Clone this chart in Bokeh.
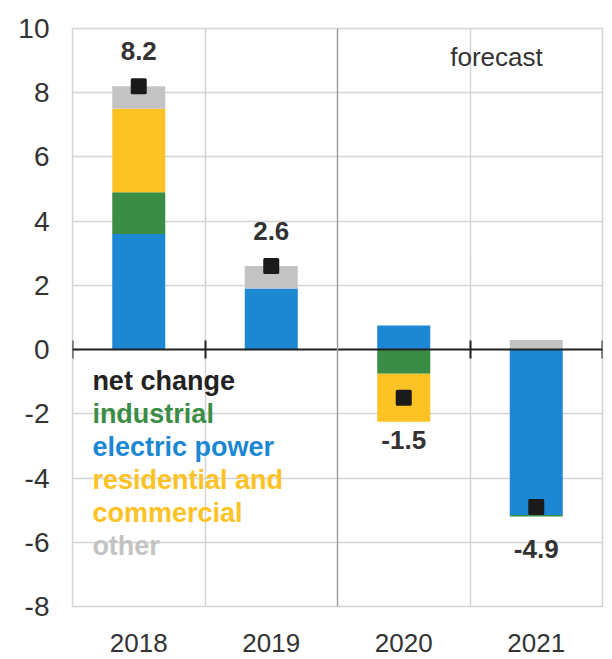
from bokeh.plotting import figure
from bokeh.models import (Range1d, FixedTicker, LinearAxis, Span, Label, ColumnDataSource, Grid)
from bokeh.core.properties import value
from bokeh.embed import file_html
from bokeh.resources import INLINE

years = ["2018", "2019", "2020", "2021"]
electric = [3.6, 1.9, 0.75, -5.15]
industrial = [1.3, 0.0, -0.75, -0.05]
residential = [2.6, 0.0, -1.5, 0.0]
other = [0.7, 0.7, 0.0, 0.3]
net = [8.2, 2.6, -1.5, -4.9]
y_ticks = [10, 8, 6, 4, 2, 0, -2, -4, -6, -8]

series = [("electric power", electric, "#1c87d2"),
          ("industrial", industrial, "#3b8d45"),
          ("residential and commercial", residential, "#fdc223"),
          ("other", other, "#c3c3c3")]

FONT = "Liberation Sans"
TXT = "#333333"

p = figure(width=612, height=659, output_backend="svg", toolbar_location=None,
           x_range=Range1d(0, 4), y_range=Range1d(-8, 10),
           min_border_left=72, min_border_right=10, min_border_top=28, min_border_bottom=53,
           x_axis_type=None, y_axis_type=None)
p.outline_line_color = "#d4d4d4"
p.outline_line_width = 1.5

xc = [i + 0.5 for i in range(len(years))]

# y axis
ya = LinearAxis(ticker=FixedTicker(ticks=y_ticks))
ya.major_label_overrides = {t: str(t) for t in y_ticks}
ya.axis_line_color = None
ya.major_tick_line_color = None
ya.minor_tick_line_color = None
ya.major_label_standoff = 17
ya.major_label_text_font = FONT
ya.major_label_text_font_size = "28px"
ya.major_label_text_color = TXT
p.add_layout(ya, "left")

# year axis
xa = LinearAxis(ticker=FixedTicker(ticks=xc))
xa.major_label_overrides = {x: y for x, y in zip(xc, years)}
xa.axis_line_color = None
xa.major_tick_line_color = None
xa.minor_tick_line_color = None
xa.major_label_standoff = 21
xa.major_label_text_font = FONT
xa.major_label_text_font_size = "26px"
xa.major_label_text_color = TXT
p.add_layout(xa, "below")

# grids
p.grid.visible = False
p.add_layout(Grid(dimension=0, ticker=FixedTicker(ticks=[0, 1, 3, 4]),
                  grid_line_color="#d4d4d4", grid_line_width=1.5))
p.add_layout(Grid(dimension=1, ticker=FixedTicker(ticks=y_ticks),
                  grid_line_color="#d4d4d4", grid_line_width=1.5))
p.add_layout(Span(location=2, dimension="height", line_color="#a0a0a0", line_width=1.5))

# stacked bars
pos = [0.0] * len(years)
neg = [0.0] * len(years)
for name, vals, color in series:
    bottoms, tops = [], []
    for i, v in enumerate(vals):
        if v >= 0:
            bottoms.append(pos[i]); tops.append(pos[i] + v); pos[i] += v
        else:
            bottoms.append(neg[i]); tops.append(neg[i] + v); neg[i] += v
    p.vbar(x=xc, bottom=bottoms, top=tops, width=0.4, fill_color=color, line_color=None)

# zero axis with ticks at boundaries
za = LinearAxis(ticker=FixedTicker(ticks=[0, 1, 3, 4]), fixed_location=0)
za.axis_line_color = "#222222"
za.axis_line_width = 2
za.major_tick_line_color = "#222222"
za.major_tick_line_width = 2
za.major_tick_in = 9
za.major_tick_out = 9
za.minor_tick_line_color = None
za.major_label_text_font_size = "0px"
za.major_label_text_color = None
p.add_layout(za, "below")

# net change markers and labels
p.scatter(x=xc, y=net, marker="square", size=13, fill_color="#1a1a1a",
          line_color="#1a1a1a", line_width=3, line_join="round")
src = ColumnDataSource(dict(x=xc, y=net, t=[f"{v:.1f}" for v in net],
                            off=[-35 if v > 0 else 42 for v in net]))
p.text(x="x", y="y", text="t", y_offset="off", source=src, text_align="center",
       text_baseline="middle", text_font=value(FONT), text_font_style="bold",
       text_font_size="26px", text_color=TXT)

p.add_layout(Label(x=3.2, y=9.1, text="forecast", text_align="center", text_baseline="middle",
                   text_font=FONT, text_font_size="26px", text_color=TXT))

legend_items = [("net change", "#222222"), (series[1][0], series[1][2]),
                (series[0][0], series[0][2]), ("residential and", series[2][2]),
                ("commercial", series[2][2]), ("other", series[3][2])]
for k, (txt, col) in enumerate(legend_items):
    p.add_layout(Label(x=0.15, y=-0.97 - 1.03 * k, text=txt, text_baseline="middle",
                       text_font=FONT, text_font_style="bold", text_font_size="27px",
                       text_color=col))

open("out.html", "w").write(file_html(p, INLINE))
